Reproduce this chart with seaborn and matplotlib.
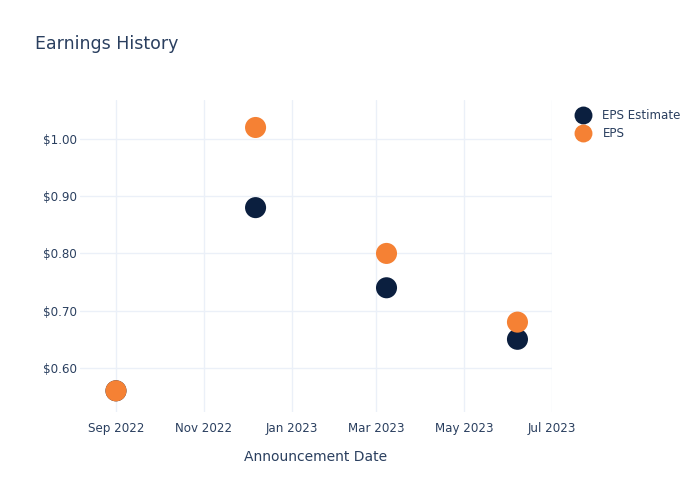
import matplotlib
matplotlib.use("Agg")
import matplotlib.pyplot as plt
import matplotlib.dates as mdates
import matplotlib.ticker as mticker
import seaborn as sns
import pandas as pd

dates = ["2022-09-01", "2022-12-07", "2023-03-08", "2023-06-07"]
eps_estimate = [0.56, 0.88, 0.74, 0.65]
eps_actual = [0.56, 1.02, 0.80, 0.68]
series_names = ["EPS Estimate", "EPS"]
colors = ["#0b1f3f", "#f58134"]

df = pd.DataFrame({
    "date": pd.to_datetime(dates * 2),
    "value": eps_estimate + eps_actual,
    "series": [series_names[0]] * len(dates) + [series_names[1]] * len(dates),
})

sns.set_theme(style="white")
plt.rcParams["font.family"] = ["DejaVu Sans"]
text_color = "#2a3f5f"
grid_color = "#ebf0f8"

fig = plt.figure(figsize=(7, 5), dpi=100)
ax = fig.add_axes([80 / 700, 1 - 412 / 500, (552 - 80) / 700, (412 - 100) / 500])

sns.scatterplot(data=df, x="date", y="value", hue="series", palette=colors,
                s=230, linewidth=0, ax=ax, zorder=3)

ax.set_xlim(pd.Timestamp("2022-08-07"), pd.Timestamp("2023-07-01"))
ax.set_ylim(0.523, 1.068)
ax.xaxis.set_major_locator(mdates.MonthLocator(bymonth=[1, 3, 5, 7, 9, 11]))
ax.xaxis.set_major_formatter(mdates.DateFormatter("%b %Y"))
ax.yaxis.set_major_locator(mticker.FixedLocator([0.6, 0.7, 0.8, 0.9, 1.0]))
ax.yaxis.set_major_formatter(mticker.FuncFormatter(lambda v, p: f"${v:.2f}"))

ax.grid(True, color=grid_color, linewidth=1)
ax.set_axisbelow(True)
for s in ax.spines.values():
    s.set_visible(False)
ax.tick_params(axis="x", length=0, labelsize=8.6, colors=text_color, pad=7)
ax.tick_params(axis="y", length=0, labelsize=8.6, colors=text_color, pad=2)

ax.set_xlabel("Announcement Date", fontsize=10, color=text_color, labelpad=11)
ax.set_ylabel("")

fig.text(35 / 700, 1 - 44 / 500, "Earnings History", fontsize=12.5, color=text_color,
         va="center", ha="left")

handles, labels = ax.get_legend_handles_labels()
ax.legend(handles=handles, labels=labels, loc="upper left",
          bbox_to_anchor=(569 / 700, 1 - 104 / 500), bbox_transform=fig.transFigure,
          frameon=False, fontsize=8.6, labelcolor=text_color, markerscale=0.85,
          handletextpad=0.8, borderaxespad=0, labelspacing=0.45, handlelength=1.6)

fig.savefig("out.png", dpi=100)
